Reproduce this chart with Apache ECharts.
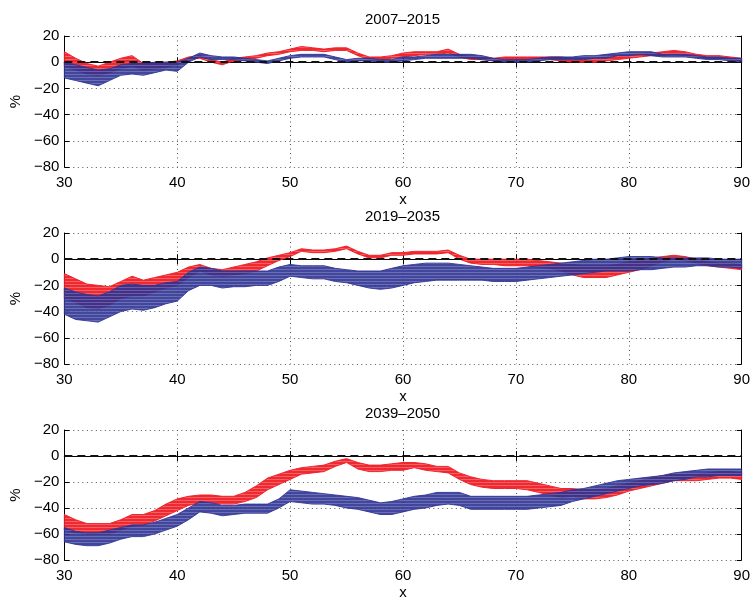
<!DOCTYPE html>
<html>
<head>
<meta charset="utf-8">
<script src="https://cdn.jsdelivr.net/npm/echarts@6/dist/echarts.min.js"></script>
<style>html,body{margin:0;padding:0;background:#fff}#c{width:753px;height:601px}</style>
</head>
<body>
<div id="c"></div>
<script>
const titles = ['2007\u20132015', '2019\u20132035', '2039\u20132050'];
const xs = [30,31,32,33,34,35,36,37,38,39,40,41,42,43,44,45,46,47,48,49,50,51,52,53,54,55,56,57,58,59,60,61,62,63,64,65,66,67,68,69,70,71,72,73,74,75,76,77,78,79,80,81,82,83,84,85,86,87,88,89,90];
const yTicks = [-80,-60,-40,-20,0,20];
const xTicks = [30,40,50,60,70,80,90];

// Panel 1: 2007-2015
const p1RedHi = [8,3,-1,-3,0,3,5,-1,-1,0,1,4,5,2,0,3,4,5,7,8,10,12,11,10,11,11,7,4,4,5,7,8,8,8,10,6,4,4,3,4,4,4,4,4,4,3,3,3,4,5,5,6,7,8,9,8,6,5,5,4,3];
const p1RedLo = [-3,-6,-9,-10,-8,-5,-3,-6,-5,-4,-2,2,3,0,-2,1,2,3,5,6,8,9,9,8,9,9,5,2,2,3,4,5,6,6,7,4,2,2,1,2,2,2,2,2,1,0,0,0,1,2,3,4,5,5,6,5,4,3,3,2,1];
const p1BlueHi = [0,-2,-4,-6,-5,-2,-1,-1,0,0,0,3,7,5,4,4,3,2,1,3,5,6,6,6,4,2,3,3,2,2,4,4,5,6,6,6,6,5,3,2,2,2,3,4,4,4,5,5,6,7,8,8,8,6,6,6,5,4,4,3,3];
const p1BlueLo = [-12,-14,-16,-18,-14,-10,-9,-10,-8,-6,-7,0,4,2,2,2,1,0,-1,1,3,4,4,4,2,0,1,1,0,0,1,2,3,3,3,3,3,2,1,0,0,0,1,2,2,2,2,3,3,5,5,6,5,4,4,4,3,2,2,1,0];

// Panel 2: 2019-2035
const p2RedHi = [-11,-15,-19,-20,-21,-17,-13,-16,-14,-12,-10,-6,-4,-7,-8,-6,-4,-2,1,3,5,8,7,7,8,10,6,3,3,5,5,6,6,6,7,3,0,0,0,0,0,0,-1,-2,-3,-4,-5,-5,-5,-4,-2,-1,1,2,3,2,0,-2,-3,-3,-4];
const p2RedLo = [-30,-33,-37,-38,-35,-30,-28,-28,-25,-22,-20,-14,-9,-12,-13,-12,-11,-9,-5,-1,2,6,5,5,6,8,4,1,1,3,3,4,4,4,5,0,-3,-4,-4,-5,-5,-5,-6,-7,-9,-12,-14,-14,-14,-12,-10,-8,-5,-2,0,-1,-3,-5,-6,-7,-8];
const p2BlueHi = [-22,-25,-27,-28,-25,-20,-19,-20,-20,-18,-17,-10,-6,-7,-9,-9,-9,-9,-9,-6,-4,-5,-5,-5,-7,-8,-9,-9,-9,-7,-5,-4,-3,-3,-3,-4,-5,-6,-7,-7,-7,-6,-5,-4,-3,-2,-1,0,0,1,2,2,2,1,1,1,1,1,0,0,0];
const p2BlueLo = [-42,-46,-47,-48,-44,-40,-38,-39,-37,-34,-32,-24,-20,-20,-22,-21,-21,-20,-20,-17,-13,-14,-15,-15,-17,-18,-20,-22,-23,-22,-20,-18,-17,-16,-16,-16,-16,-16,-17,-17,-17,-16,-15,-14,-13,-12,-11,-10,-9,-9,-9,-8,-8,-7,-6,-6,-5,-5,-6,-6,-7];

// Panel 3: 2039-2050
const p3RedHi = [-45,-49,-52,-52,-52,-49,-45,-45,-42,-37,-33,-31,-30,-30,-31,-31,-28,-23,-17,-14,-11,-9,-8,-7,-4,-2,-5,-7,-7,-6,-5,-5,-6,-8,-8,-13,-16,-18,-19,-19,-19,-19,-21,-23,-25,-25,-26,-26,-25,-23,-21,-19,-17,-15,-14,-14,-14,-13,-12,-12,-13];
const p3RedLo = [-57,-59,-60,-60,-60,-57,-54,-53,-50,-46,-42,-38,-36,-36,-37,-37,-35,-32,-26,-22,-18,-14,-13,-12,-8,-5,-10,-12,-12,-11,-11,-9,-11,-12,-13,-18,-22,-24,-25,-25,-25,-26,-28,-30,-32,-31,-33,-33,-32,-30,-27,-25,-23,-21,-19,-19,-19,-18,-17,-17,-18];
const p3BlueHi = [-55,-58,-59,-59,-57,-55,-53,-53,-51,-48,-45,-40,-35,-36,-38,-38,-37,-37,-37,-33,-26,-27,-28,-29,-30,-31,-32,-34,-36,-35,-33,-31,-30,-28,-28,-28,-31,-31,-31,-31,-31,-31,-30,-29,-28,-26,-25,-23,-21,-19,-18,-17,-16,-15,-13,-12,-11,-10,-10,-10,-10];
const p3BlueLo = [-66,-68,-69,-69,-67,-64,-62,-62,-60,-57,-54,-49,-43,-44,-46,-45,-44,-44,-44,-40,-35,-36,-37,-37,-38,-40,-41,-43,-45,-45,-43,-41,-40,-38,-37,-38,-41,-41,-41,-41,-41,-41,-40,-39,-38,-35,-33,-31,-29,-27,-25,-23,-22,-21,-19,-18,-16,-16,-15,-15,-15];

const panels = [
  {red:[p1RedLo,p1RedHi], blue:[p1BlueLo,p1BlueHi]},
  {red:[p2RedLo,p2RedHi], blue:[p2BlueLo,p2BlueHi]},
  {red:[p3RedLo,p3RedHi], blue:[p3BlueLo,p3BlueHi]}
];

const RED = '#f01e26', BLUE = '#2e3393';
const RED_LIGHT = '#f4585e', BLUE_LIGHT = '#5a5fab';
const FONT = 'Liberation Sans';
const gridTops = [36, 233, 430];
const gridH = 131;

function stripe(c1, c2) {
  const cv = document.createElement('canvas');
  cv.width = 4; cv.height = 3;
  const g = cv.getContext('2d');
  g.fillStyle = c1; g.fillRect(0, 0, 4, 2);
  g.fillStyle = c2; g.fillRect(0, 2, 4, 1);
  return {image: cv, repeat: 'repeat'};
}
const redFill = stripe(RED, RED_LIGHT);
const blueFill = stripe(BLUE, BLUE_LIGHT);

const chart = echarts.init(document.getElementById('c'), null, {renderer:'canvas'});
const grids = [], xAxes = [], yAxes = [], series = [], graphics = [];
const minus = v => String(v).replace('-', '\u2212');

function bandRender(fill, color, opacity) {
  return function (params, api) {
    if (params.dataIndexInside !== 0) return null;
    const n = params.dataInsideLength;
    const top = [], bot = [];
    for (let k = 0; k < n; k++) {
      const x = api.value(0, k);
      bot.push(api.coord([x, api.value(1, k)]));
      top.push(api.coord([x, api.value(2, k)]));
    }
    const pts = bot.concat(top.reverse());
    return {
      type:'polygon', shape:{points:pts},
      style:{fill:fill, opacity:opacity, stroke:color, lineWidth:1}
    };
  };
}

gridTops.forEach((top, i) => {
  grids.push({left:63, right:11, top:top, height:gridH, containLabel:false});
  const lineS = {show:true, lineStyle:{color:'#000', width:1}};
  xAxes.push({
    gridIndex:i, type:'value', min:xTicks[0], max:xTicks[xTicks.length-1], interval:10, position:'bottom',
    axisLine:lineS, axisTick:{show:true, inside:true, length:5, lineStyle:{color:'#000'}},
    axisLabel:{fontSize:15, color:'#000', fontFamily:FONT, margin:8},
    splitLine:{show:true, lineStyle:{type:[1,3.5], color:'#555', width:1}},
    name:'x', nameLocation:'middle', nameGap:25, nameTextStyle:{fontSize:15, color:'#000', fontFamily:FONT}
  });
  xAxes.push({
    gridIndex:i, type:'value', min:xTicks[0], max:xTicks[xTicks.length-1], interval:10, position:'top',
    axisLine:lineS, axisTick:{show:true, inside:true, length:5, lineStyle:{color:'#000'}},
    axisLabel:{show:false}, splitLine:{show:false}
  });
  yAxes.push({
    gridIndex:i, type:'value', min:yTicks[0], max:yTicks[yTicks.length-1], interval:20, position:'left',
    axisLine:lineS, axisTick:{show:true, inside:true, length:5, lineStyle:{color:'#000'}},
    axisLabel:{fontSize:15, color:'#000', fontFamily:FONT, margin:5, formatter:minus},
    splitLine:{show:true, lineStyle:{type:[1,3.5], color:'#555', width:1}},
    name:'%', nameLocation:'middle', nameGap:37, nameRotate:90, nameTextStyle:{fontSize:15, color:'#000', fontFamily:FONT}
  });
  yAxes.push({
    gridIndex:i, type:'value', min:yTicks[0], max:yTicks[yTicks.length-1], interval:20, position:'right',
    axisLine:lineS, axisTick:{show:true, inside:true, length:5, lineStyle:{color:'#000'}},
    axisLabel:{show:false}, splitLine:{show:false}
  });

  const p = panels[i];
  [['red', redFill, RED, 0.95], ['blue', blueFill, BLUE, 0.9]].forEach(([key, fill, col, op], k) => {
    const lo = p[key][0], hi = p[key][1];
    series.push({
      type:'custom', xAxisIndex:2*i, yAxisIndex:2*i, silent:true, z:2+k,
      renderItem: bandRender(fill, col, op),
      encode:{x:0, y:[1,2]},
      data: xs.map((x, j) => [x, lo[j], hi[j]])
    });
  });
  series.push({
    type:'line', xAxisIndex:2*i, yAxisIndex:2*i, data:[], silent:true, z:10,
    markLine:{silent:true, symbol:'none', label:{show:false}, animation:false,
      lineStyle:{color:'#111', type:[8,5], width:2}, data:[{yAxis:0}]}
  });

  graphics.push({type:'text', x:402.5, y:top-16, style:{text:titles[i], fill:'#000',
    font:'15px "' + FONT + '"', textAlign:'center', textVerticalAlign:'middle'}});
});

chart.setOption({
  animation:false,
  grid:grids, xAxis:xAxes, yAxis:yAxes, series:series, graphic:graphics
});
</script>
</body>
</html>
